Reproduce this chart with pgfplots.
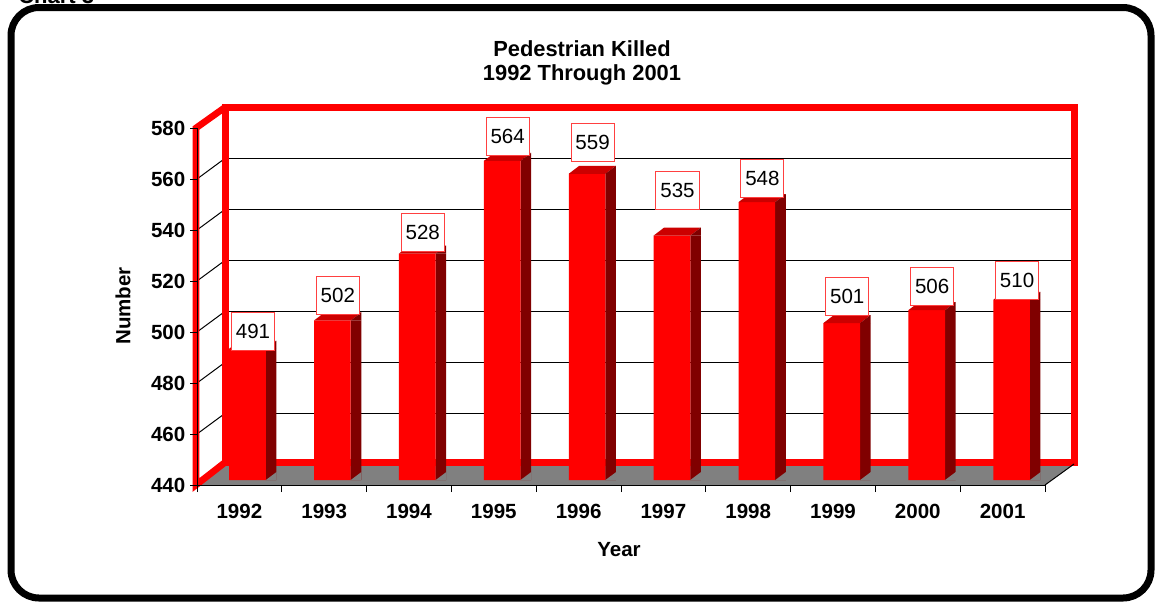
\documentclass[border=0pt]{standalone}
\usepackage{pgfplots}
\pgfplotsset{compat=1.18}
\usepackage{pgfplotstable}
\usepackage{fontspec}
\setmainfont{Liberation Sans}
\definecolor{barred}{HTML}{FF0000}
\definecolor{topred}{HTML}{CC0000}
\definecolor{sidered}{HTML}{800000}
\definecolor{floorgray}{HTML}{808080}
\definecolor{lblred}{HTML}{FF4040}
\newcommand\chartfont{\fontsize{15.4}{18}\selectfont}
\newcommand\titlefont{\fontsize{16.4}{19}\selectfont}

% i = category index, v = pedestrians killed, lb = bottom of the value label box, base = floor level
\pgfplotstableread{
i v lb base
0 491 490.2 440
1 502 504.2 440
2 528 528.7 440
3 564 566.0 440
4 559 563.5 440
5 535 545.0 440
6 548 549.7 440
7 501 503.8 440
8 506 507.7 440
9 510 510.0 440
}\data

% top face of a 3-D column (drawn at the top-front-centre of the column)
\pgfdeclareplotmark{barcap}{%
  \pgfpathmoveto{\pgfpoint{-13.76pt}{0pt}}%
  \pgfpathlineto{\pgfpoint{13.76pt}{0pt}}%
  \pgfpathlineto{\pgfpoint{21.64pt}{6pt}}%
  \pgfpathlineto{\pgfpoint{-5.89pt}{6pt}}%
  \pgfpathclose
  \pgfsetfillcolor{topred}%
  \pgfusepath{fill}%
  \pgfpathmoveto{\pgfpoint{13.76pt}{0pt}}%
  \pgfpathlineto{\pgfpoint{21.64pt}{6pt}}%
  \pgfpathlineto{\pgfpoint{21.64pt}{0pt}}%
  \pgfpathclose
  \pgfsetfillcolor{sidered}%
  \pgfusepath{fill}%
}
% floor triangle at the foot of the side face
\pgfdeclareplotmark{barfoot}{%
  \pgfpathmoveto{\pgfpoint{13.76pt}{0pt}}%
  \pgfpathlineto{\pgfpoint{21.8pt}{0pt}}%
  \pgfpathlineto{\pgfpoint{21.8pt}{6pt}}%
  \pgfpathclose
  \pgfsetfillcolor{floorgray}%
  \pgfusepath{fill}%
}

\begin{document}
\begin{tikzpicture}[x=0.75pt,y=0.75pt]
\useasboundingbox (0,0) rectangle (1156,-604);
% cut-off caption above the frame
\node[anchor=base west, inner sep=0pt, font=\fontsize{16.5}{18}\selectfont\bfseries] at (18,-3) {Chart 3};
% outer frame
\draw[black, line width=5.25pt, rounded corners=21pt] (11,-7.5) rectangle (1151,-598);
% floor
\fill[floorgray] (197,-485) -- (1045,-485) -- (1074,-464) -- (225.5,-464) -- cycle;
% left wall grid lines
\foreach \v in {460,480,...,560}
  \draw[black, line width=0.75pt] (197,{-(485-(\v-440)*2.55)}) -- (225.5,{-(464-(\v-440)*2.55)});

% back wall with grid lines
\begin{axis}[at={(169.125pt,-348pt)}, anchor=south west, scale only axis,
  width=636.4pt, height=267.75pt,
  xmin=-0.5, xmax=9.5, ymin=440, ymax=580,
  xtick=\empty, ytick={460,480,...,560}, yticklabels={},
  ymajorgrids, grid style={black, line width=0.75pt},
  axis line style={draw=none}, tick style={draw=none}, major tick length=0pt]
\end{axis}

% red frame of walls
\draw[barred, line width=5.25pt, line join=miter] (225.5,-107) rectangle (1074,-462);
\draw[barred, line width=5pt, line join=miter] (225.5,-107) -- (196,-128) -- (196,-485) -- (225.5,-462);

% columns
\begin{axis}[at={(153.79pt,-360pt)}, anchor=south west, scale only axis,
  width=636.75pt, height=289.5pt,
  xmin=-0.5, xmax=9.5, ymin=440, ymax=590, hide axis]
\addplot[ybar, bar width=7.9pt, bar shift=17.7pt, fill=sidered, draw=none] table[x=i,y=v]{\data};
\addplot[only marks, mark=barfoot] table[x=i,y=base]{\data};
\addplot[ybar, bar width=27.5pt, bar shift=0pt, fill=barred, draw=none] table[x=i,y=v]{\data};
\addplot[only marks, mark=barcap] table[x=i,y=v]{\data};
\addplot[draw=none, nodes near coords, point meta=explicit,
  nodes near coords style={anchor=south, xshift=4.1pt, fill=white, draw=lblred,
    line width=0.75pt, inner xsep=3.3pt, inner ysep=0pt, minimum height=28.3pt,
    font=\chartfont, text=black,
    /pgf/number format/assume math mode=true}]
  table[x=i,y=lb,meta=v]{\data};
\end{axis}

% front axes
\begin{axis}[at={(147.75pt,-363.75pt)}, anchor=south west, scale only axis,
  width=636pt, height=267.75pt,
  xmin=-0.5, xmax=9.5, ymin=440, ymax=580,
  axis x line*=bottom, axis y line*=left,
  axis line style={black, line width=0.75pt},
  ytick={440,460,...,580},
  xtick={-0.5,0.5,...,9.5}, xticklabels={},
  extra x ticks={0,...,9},
  extra x tick labels={1992,1993,1994,1995,1996,1997,1998,1999,2000,2001},
  extra x tick style={major tick length=0pt, tick label style={yshift=-10.5pt}},
  tick align=outside, major tick length=5.25pt,
  tick style={black, line width=0.75pt},
  ticklabel style={font=\chartfont\bfseries},
  /pgf/number format/assume math mode=true,
  /pgf/number format/1000 sep={}]
\end{axis}
\draw[black, line width=0.75pt] (1045,-485) -- (1074,-464);

% titles
\node[anchor=base, inner sep=0pt, font=\titlefont\bfseries] at (582,-56.7) {Pedestrian Killed};
\node[anchor=base, inner sep=0pt, font=\titlefont\bfseries] at (582,-80) {1992 Through 2001};
\node[anchor=base, inner sep=0pt, font=\chartfont\bfseries] at (619,-556.7) {Year};
\node[rotate=90, inner sep=0pt, font=\chartfont\bfseries] at (123,-306) {Number};
\end{tikzpicture}
\end{document}
